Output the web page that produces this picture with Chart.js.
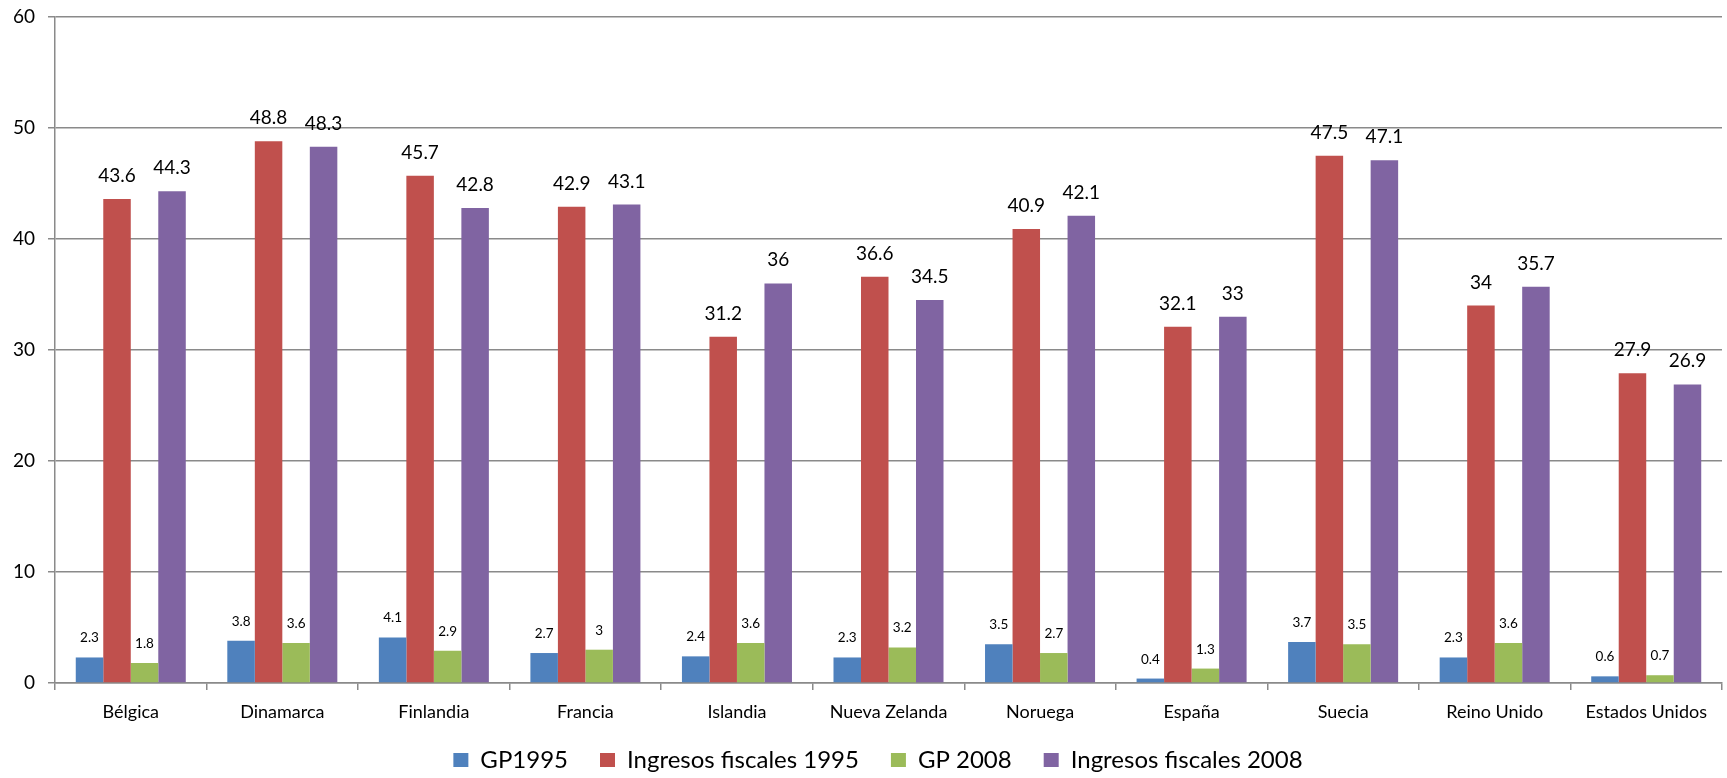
<!DOCTYPE html>
<html>
<head>
<meta charset="utf-8">
<script src="https://cdn.jsdelivr.net/npm/chart.js@4.4.1/dist/chart.umd.min.js"></script>
<style>
  html, body { margin: 0; padding: 0; background: #fff; }
  #wrap { width: 1727px; height: 778px; }
</style>
</head>
<body>
<div id="wrap"><canvas id="chart"></canvas></div>
<script>
const categories = ["Bélgica", "Dinamarca", "Finlandia", "Francia", "Islandia", "Nueva Zelanda", "Noruega", "España", "Suecia", "Reino Unido", "Estados Unidos"];
const gp1995 = [2.3, 3.8, 4.1, 2.7, 2.4, 2.3, 3.5, 0.4, 3.7, 2.3, 0.6];
const ingresos1995 = [43.6, 48.8, 45.7, 42.9, 31.2, 36.6, 40.9, 32.1, 47.5, 34, 27.9];
const gp2008 = [1.8, 3.6, 2.9, 3, 3.6, 3.2, 2.7, 1.3, 3.5, 3.6, 0.7];
const ingresos2008 = [44.3, 48.3, 42.8, 43.1, 36, 34.5, 42.1, 33, 47.1, 35.7, 26.9];
const yTicks = [0, 10, 20, 30, 40, 50, 60];

const FONT = "Lato, 'Open Sans', sans-serif";
const GRID = "#8a8a8a";

// value labels above each bar (big for the revenue series, small for GP)
const barLabels = {
  id: "barLabels",
  afterDatasetsDraw(chart) {
    const ctx = chart.ctx;
    ctx.save();
    ctx.fillStyle = "#000";
    ctx.textAlign = "center";
    ctx.textBaseline = "alphabetic";
    chart.data.datasets.forEach((ds, i) => {
      const big = i === 1 || i === 3;
      ctx.font = (big ? "19px " : "13.5px ") + FONT;
      chart.getDatasetMeta(i).data.forEach((bar, j) => {
        ctx.fillText(String(ds.data[j]), bar.x, bar.y - (big ? 17 : 15));
      });
    });
    ctx.restore();
  }
};

// nudge the legend a bit lower and to the right, like the original
const legendShift = {
  id: "legendShift",
  afterLayout(chart) {
    const lg = chart.legend;
    if (!lg) return;
    lg.left = 34;
    lg.top = 716;
  }
};

new Chart(document.getElementById("chart"), {
  type: "bar",
  data: {
    labels: categories,
    datasets: [
      { label: "GP1995", data: gp1995, backgroundColor: "#4F81BD" },
      { label: "Ingresos fiscales 1995", data: ingresos1995, backgroundColor: "#C0504D" },
      { label: "GP 2008", data: gp2008, backgroundColor: "#9BBB59" },
      { label: "Ingresos fiscales 2008", data: ingresos2008, backgroundColor: "#8064A2" }
    ]
  },
  options: {
    responsive: true,
    maintainAspectRatio: false,
    animation: false,
    datasets: { bar: { categoryPercentage: 0.726, barPercentage: 1 } },
    layout: { padding: { left: 0, right: 5, top: 17, bottom: 0 } },
    plugins: {
      tooltip: { enabled: false },
      legend: {
        position: "bottom",
        maxHeight: 50,
        labels: {
          color: "#000",
          font: { family: FONT, size: 24 },
          boxWidth: 15,
          boxHeight: 14,
          padding: 32
        }
      }
    },
    scales: {
      x: {
        afterFit(scale) { scale.height = 45; },
        grid: { display: true, drawOnChartArea: false, drawTicks: true, tickLength: 7, color: GRID, lineWidth: 1.5, offset: true },
        border: { display: true, color: GRID, width: 1.5 },
        ticks: { color: "#000", font: { family: FONT, size: 18 }, padding: 11, maxRotation: 0, autoSkip: false }
      },
      y: {
        min: yTicks[0],
        max: yTicks[yTicks.length - 1],
        afterFit(scale) {
          scale.width = 55;
          scale.paddingTop = 0;
          scale.paddingBottom = 0;
        },
        afterBuildTicks(scale) { scale.ticks = yTicks.map(v => ({ value: v })); },
        grid: { color: GRID, lineWidth: 1.5, tickLength: 7 },
        border: { display: true, color: GRID, width: 1.5 },
        ticks: { color: "#000", font: { family: FONT, size: 19 }, padding: 13 }
      }
    }
  },
  plugins: [barLabels, legendShift]
});
</script>
</body>
</html>
